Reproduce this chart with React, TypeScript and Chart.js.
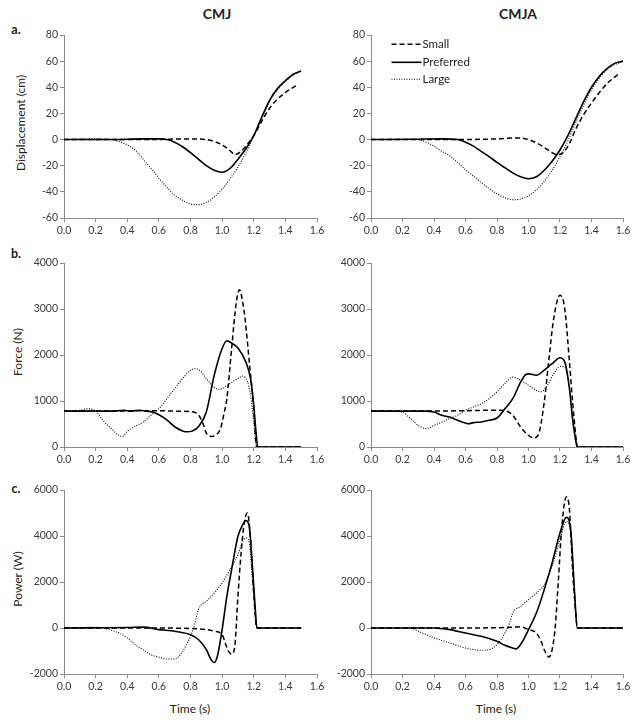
import React, { useEffect, useRef } from "react";
import { Chart, registerables } from "chart.js";

Chart.register(...registerables);

const FONT = "Lato, 'Open Sans', sans-serif";
const AXIS = "#8a8a8a";
const TICK_TEXT = "#3a3a3a";

// ---------- tick labels ----------
const X_TICKS = [0, 0.2, 0.4, 0.6, 0.8, 1.0, 1.2, 1.4, 1.6];
const DISP_TICKS = [-60, -40, -20, 0, 20, 40, 60, 80];
const FORCE_TICKS = [0, 1000, 2000, 3000, 4000];
const POWER_TICKS = [-2000, 0, 2000, 4000, 6000];

// ---------- a. Displacement, CMJ ----------
const dispCmjSmallT = [0, 0.5, 0.8, 0.9, 0.95, 1.0, 1.05, 1.08, 1.12, 1.15, 1.2, 1.25, 1.3, 1.35, 1.4, 1.45, 1.48];
const dispCmjSmallV = [0, 0, 0.5, 0, -1.5, -4, -8.5, -11.5, -9, -5, 3, 14, 24, 31, 36, 40, 42];
const dispCmjPrefT = [0, 0.3, 0.5, 0.6, 0.65, 0.7, 0.75, 0.8, 0.85, 0.9, 0.95, 1.0, 1.05, 1.1, 1.15, 1.2, 1.25, 1.3, 1.35, 1.4, 1.45, 1.5];
const dispCmjPrefV = [0, 0, 0.5, 0.5, 0, -2, -5.5, -10, -15, -20, -23.5, -25, -22, -15, -7, 3, 17, 30, 39, 45, 50, 52.5];
const dispCmjLargeT = [0, 0.2, 0.25, 0.3, 0.35, 0.4, 0.45, 0.5, 0.55, 0.6, 0.65, 0.7, 0.75, 0.8, 0.85, 0.9, 0.95, 1.0, 1.05, 1.1, 1.15, 1.2, 1.25, 1.3, 1.35, 1.4, 1.45, 1.48];
const dispCmjLargeV = [0, 0.5, 0.3, 0, -1.5, -4, -8, -15, -22, -29.5, -36.5, -42.5, -46.5, -49.3, -49.8, -48, -44, -38, -30, -21, -10, 3, 16, 29, 38, 44.5, 49.5, 51.5];

// ---------- a. Displacement, CMJA ----------
const dispCmjaSmallT = [0, 0.5, 0.8, 0.9, 0.95, 1.0, 1.05, 1.1, 1.15, 1.18, 1.22, 1.26, 1.3, 1.35, 1.4, 1.45, 1.5, 1.57];
const dispCmjaSmallV = [0, 0, 0.5, 1.2, 1.2, 0, -2.5, -6, -10, -11.5, -10, -3, 8, 19, 28, 36, 43, 50];
const dispCmjaPrefT = [0, 0.3, 0.45, 0.55, 0.6, 0.65, 0.7, 0.75, 0.8, 0.85, 0.9, 0.95, 1.0, 1.05, 1.1, 1.15, 1.2, 1.25, 1.3, 1.35, 1.4, 1.45, 1.5, 1.55, 1.6];
const dispCmjaPrefV = [0, 0.3, 0.5, 0, -2, -5, -9, -13, -17.5, -21.5, -25.5, -28.5, -30, -28.5, -23.5, -16.5, -8, 3, 16, 29, 40, 48.5, 54.5, 58.5, 60];
const dispCmjaLargeT = [0, 0.25, 0.3, 0.35, 0.4, 0.45, 0.5, 0.55, 0.6, 0.65, 0.7, 0.75, 0.8, 0.85, 0.9, 0.95, 1.0, 1.05, 1.1, 1.15, 1.2, 1.25, 1.3, 1.35, 1.4, 1.45, 1.5, 1.55, 1.6];
const dispCmjaLargeV = [0, 0.3, 0, -2, -5, -9, -12.5, -17.5, -23, -28, -33, -37.5, -41.5, -44.5, -46, -45.5, -43, -38.5, -32, -23.5, -13, -1, 13, 26.5, 38, 47, 53.5, 57.5, 59.5];

// ---------- b. Force, CMJ ----------
const forceCmjSmallT = [0, 0.1, 0.2, 0.3, 0.4, 0.5, 0.6, 0.7, 0.8, 0.85, 0.88, 0.9, 0.93, 0.96, 0.99, 1.01, 1.03, 1.06, 1.09, 1.11, 1.13, 1.145, 1.176, 1.197, 1.218, 1.3, 1.4, 1.5];
const forceCmjSmallV = [780, 780, 780, 780, 780, 790, 790, 780, 770, 700, 500, 300, 230, 260, 400, 700, 1050, 2140, 3150, 3420, 3150, 2790, 1700, 980, 0, 0, 0, 0];
const forceCmjPrefT = [0, 0.1, 0.2, 0.3, 0.35, 0.38, 0.42, 0.45, 0.48, 0.52, 0.56, 0.6, 0.65, 0.7, 0.75, 0.78, 0.81, 0.85, 0.9, 0.95, 1.0, 1.03, 1.06, 1.1, 1.15, 1.18, 1.2, 1.215, 1.225, 1.3, 1.4, 1.5];
const forceCmjPrefV = [780, 780, 780, 780, 790, 800, 780, 790, 800, 780, 760, 700, 590, 440, 350, 330, 345, 440, 760, 1560, 2140, 2310, 2260, 2150, 1850, 1480, 900, 300, 0, 0, 0, 0];
const forceCmjLargeT = [0, 0.1, 0.15, 0.2, 0.25, 0.3, 0.34, 0.37, 0.4, 0.45, 0.5, 0.55, 0.6, 0.65, 0.7, 0.75, 0.8, 0.83, 0.86, 0.9, 0.95, 0.98, 1.0, 1.05, 1.1, 1.13, 1.16, 1.18, 1.2, 1.22, 1.3, 1.4, 1.5];
const forceCmjLargeV = [780, 800, 830, 780, 560, 400, 270, 230, 340, 450, 540, 690, 830, 1050, 1270, 1490, 1670, 1700, 1660, 1490, 1300, 1250, 1270, 1380, 1490, 1540, 1420, 1120, 540, 0, 0, 0, 0];

// ---------- b. Force, CMJA ----------
const forceCmjaSmallT = [0, 0.2, 0.4, 0.6, 0.8, 0.86, 0.9, 0.95, 1.0, 1.03, 1.06, 1.1, 1.13, 1.16, 1.2, 1.23, 1.26, 1.28, 1.3, 1.31, 1.4, 1.5, 1.6];
const forceCmjaSmallV = [780, 780, 780, 790, 800, 780, 690, 435, 250, 200, 250, 980, 1920, 2790, 3300, 3010, 1850, 980, 250, 0, 0, 0, 0];
const forceCmjaPrefT = [0, 0.2, 0.35, 0.4, 0.45, 0.5, 0.55, 0.6, 0.62, 0.65, 0.7, 0.75, 0.8, 0.85, 0.9, 0.95, 0.98, 1.0, 1.05, 1.1, 1.15, 1.2, 1.23, 1.26, 1.28, 1.3, 1.31, 1.4, 1.5, 1.6];
const forceCmjaPrefV = [780, 780, 780, 760, 690, 650, 580, 520, 507, 530, 543, 580, 630, 830, 1050, 1410, 1570, 1590, 1560, 1670, 1810, 1940, 1850, 1270, 620, 150, 0, 0, 0, 0];
const forceCmjaLargeT = [0, 0.15, 0.2, 0.25, 0.3, 0.35, 0.4, 0.45, 0.5, 0.55, 0.6, 0.65, 0.7, 0.75, 0.8, 0.85, 0.9, 0.95, 1.0, 1.05, 1.08, 1.12, 1.16, 1.2, 1.23, 1.26, 1.28, 1.3, 1.31, 1.4, 1.5, 1.6];
const forceCmjaLargeV = [780, 780, 760, 620, 470, 400, 470, 540, 620, 690, 800, 870, 940, 1050, 1200, 1380, 1520, 1450, 1340, 1230, 1200, 1340, 1590, 1750, 1735, 1270, 540, 100, 0, 0, 0, 0];

// ---------- c. Power, CMJ ----------
const powerCmjSmallT = [0, 0.5, 0.8, 0.9, 0.95, 1.0, 1.02, 1.04, 1.06, 1.08, 1.1, 1.12, 1.14, 1.16, 1.18, 1.2, 1.22, 1.3, 1.4, 1.5];
const powerCmjSmallV = [0, 0, -20, -70, -140, -290, -650, -1010, -1130, -800, 1380, 3260, 4570, 5000, 3840, 1520, 0, 0, 0, 0];
const powerCmjPrefT = [0, 0.4, 0.5, 0.6, 0.7, 0.8, 0.85, 0.9, 0.93, 0.95, 0.97, 1.0, 1.03, 1.06, 1.1, 1.13, 1.15, 1.17, 1.19, 1.21, 1.22, 1.3, 1.4, 1.5];
const powerCmjPrefV = [0, 20, 40, -70, -140, -290, -500, -940, -1375, -1500, -1230, -70, 1380, 2540, 3990, 4490, 4670, 4490, 2830, 800, 0, 0, 0, 0];
const powerCmjLargeT = [0, 0.2, 0.25, 0.3, 0.35, 0.4, 0.45, 0.5, 0.55, 0.6, 0.65, 0.7, 0.75, 0.8, 0.82, 0.85, 0.9, 0.95, 1.0, 1.05, 1.1, 1.13, 1.15, 1.17, 1.19, 1.21, 1.22, 1.3, 1.4, 1.5];
const powerCmjLargeV = [0, 30, 0, -100, -220, -430, -720, -940, -1160, -1270, -1350, -1350, -1010, -360, 0, 800, 1160, 1520, 1960, 2540, 3190, 3770, 3910, 3770, 2250, 510, 0, 0, 0, 0];

// ---------- c. Power, CMJA ----------
const powerCmjaSmallT = [0, 0.5, 0.9, 0.95, 1.0, 1.05, 1.08, 1.1, 1.13, 1.15, 1.17, 1.19, 1.21, 1.24, 1.26, 1.28, 1.3, 1.31, 1.4, 1.5, 1.6];
const powerCmjaSmallV = [0, 0, 30, 50, -70, -220, -580, -940, -1260, -940, 70, 2100, 4280, 5700, 5150, 2540, 650, 0, 0, 0, 0];
const powerCmjaPrefT = [0, 0.4, 0.5, 0.6, 0.7, 0.8, 0.85, 0.9, 0.92, 0.95, 1.0, 1.05, 1.1, 1.15, 1.2, 1.24, 1.27, 1.29, 1.31, 1.4, 1.5, 1.6];
const powerCmjaPrefV = [0, 0, -70, -220, -360, -580, -750, -870, -910, -720, -70, 650, 1670, 2830, 4130, 4810, 4130, 1810, 0, 0, 0, 0];
const powerCmjaLargeT = [0, 0.25, 0.3, 0.4, 0.5, 0.6, 0.65, 0.7, 0.75, 0.8, 0.85, 0.88, 0.9, 0.95, 1.0, 1.05, 1.1, 1.15, 1.2, 1.24, 1.27, 1.29, 1.31, 1.4, 1.5, 1.6];
const powerCmjaLargeV = [0, 0, -140, -430, -650, -870, -940, -970, -940, -720, -220, 220, 650, 940, 1230, 1520, 1880, 2680, 3840, 4640, 3990, 1960, 0, 0, 0, 0];

const SERIES_NAMES = ["Small", "Preferred", "Large"];

type Style = { borderDash: number[]; borderWidth: number };
const STYLES: Style[] = [
  { borderDash: [5, 3], borderWidth: 1.5 },
  { borderDash: [], borderWidth: 1.6 },
  { borderDash: [1, 1.5], borderWidth: 1.1 },
];

function pts(t: number[], v: number[]) {
  return t.map((x, i) => ({ x, y: v[i] }));
}

interface PanelProps {
  left: number;
  top: number;
  w: number;
  h: number;
  yTicks: number[];
  series: [number[], number[]][];
  legend?: boolean;
}

const PAD_L = 10;
const Y_W = 40;
const PAD_T = 10;
const PAD_R = 14;
const X_H = 20;
const PAD_B = 4;

function Panel(p: PanelProps) {
  const ref = useRef<HTMLCanvasElement>(null);
  useEffect(() => {
    if (!ref.current) return;
    const legendPlugin = {
      id: "customLegend",
      afterDatasetsDraw(chart: any) {
        if (!p.legend) return;
        const ctx = chart.ctx as CanvasRenderingContext2D;
        const a = chart.chartArea;
        const rows = [9.3, 27.3, 44.3];
        ctx.save();
        SERIES_NAMES.forEach((name, i) => {
          const y = a.top + rows[i];
          ctx.beginPath();
          ctx.setLineDash(STYLES[i].borderDash);
          ctx.lineWidth = STYLES[i].borderWidth;
          ctx.strokeStyle = "#000";
          ctx.moveTo(a.left + 20.5, y);
          ctx.lineTo(a.left + 50.5, y);
          ctx.stroke();
          ctx.setLineDash([]);
          ctx.fillStyle = "#222";
          ctx.font = `11.5px ${FONT}`;
          ctx.textBaseline = "middle";
          ctx.textAlign = "left";
          ctx.fillText(name, a.left + 51.5, y);
        });
        ctx.restore();
      },
    };
    const yMin = p.yTicks[0];
    const yMax = p.yTicks[p.yTicks.length - 1];
    const chart = new Chart(ref.current, {
      type: "line",
      data: {
        datasets: p.series.map(([t, v], i) => ({
          label: SERIES_NAMES[i],
          data: pts(t, v),
          borderColor: "#000",
          borderDash: STYLES[i].borderDash,
          borderWidth: STYLES[i].borderWidth,
          pointRadius: 0,
          fill: false,
          cubicInterpolationMode: "monotone" as const,
        })),
      },
      options: {
        animation: false,
        responsive: true,
        maintainAspectRatio: false,
        layout: { padding: { left: PAD_L, top: PAD_T, right: PAD_R, bottom: PAD_B } },
        plugins: { legend: { display: false }, tooltip: { enabled: false } },
        events: [],
        scales: {
          x: {
            type: "linear",
            min: 0,
            max: 1.6,
            afterFit: (s: any) => {
              s.height = X_H;
            },
            afterBuildTicks: (s: any) => {
              s.ticks = X_TICKS.map((v) => ({ value: v }));
            },
            grid: { drawOnChartArea: false, drawTicks: true, tickLength: 4, color: AXIS, tickColor: AXIS },
            border: { display: true, color: AXIS, width: 1 },
            ticks: {
              autoSkip: false,
              maxRotation: 0,
              padding: 2,
              color: TICK_TEXT,
              font: { family: FONT, size: 10.5 },
              callback: (v: any) => Number(v).toFixed(1),
            },
          },
          y: {
            type: "linear",
            min: yMin,
            max: yMax,
            afterFit: (s: any) => {
              s.width = Y_W;
            },
            afterBuildTicks: (s: any) => {
              s.ticks = p.yTicks.map((v) => ({ value: v }));
            },
            grid: { drawOnChartArea: false, drawTicks: true, tickLength: 4, color: AXIS, tickColor: AXIS },
            border: { display: true, color: AXIS, width: 1 },
            ticks: {
              autoSkip: false,
              padding: 2,
              color: TICK_TEXT,
              font: { family: FONT, size: 10.5 },
              callback: (v: any) => String(v),
            },
          },
        },
      } as any,
      plugins: [legendPlugin],
    });
    return () => chart.destroy();
  }, []);
  return (
    <div
      style={{
        position: "absolute",
        left: p.left - PAD_L - Y_W,
        top: p.top - PAD_T,
        width: p.w + PAD_L + Y_W + PAD_R,
        height: p.h + PAD_T + X_H + PAD_B,
      }}
    >
      <canvas ref={ref} />
    </div>
  );
}

const textBase: React.CSSProperties = {
  position: "absolute",
  fontFamily: FONT,
  color: "#222",
  whiteSpace: "nowrap",
  lineHeight: 1,
};

function Label(props: { x: number; y: number; text: string; size: number; bold?: boolean; rotate?: boolean }) {
  return (
    <div
      style={{
        ...textBase,
        left: props.x,
        top: props.y,
        fontSize: props.size,
        fontWeight: props.bold ? 700 : 400,
        transform: `translate(-50%, -50%)${props.rotate ? " rotate(-90deg)" : ""}`,
      }}
    >
      {props.text}
    </div>
  );
}

const COL_L = { left: 64, w: 253 };
const COL_R = { left: 371, w: 252 };
const ROW1 = { top: 35, h: 183 };
const ROW2 = { top: 263, h: 184 };
const ROW3 = { top: 490, h: 184 };

export default function App() {
  return (
    <div style={{ position: "absolute", left: 0, top: 0, width: 638, height: 724, background: "#fff", overflow: "hidden" }}>
      <Label x={217} y={14} text="CMJ" size={14} bold />
      <Label x={518} y={14} text="CMJA" size={14} bold />
      <Label x={16} y={30} text="a." size={12.5} bold />
      <Label x={16} y={254} text="b." size={12.5} bold />
      <Label x={16} y={489} text="c." size={12.5} bold />
      <Label x={21} y={123} text="Displacement (cm)" size={12} rotate />
      <Label x={18} y={352} text="Force (N)" size={12} rotate />
      <Label x={18} y={579} text="Power (W)" size={12} rotate />
      <Label x={190} y={709} text="Time (s)" size={12} />
      <Label x={496} y={709} text="Time (s)" size={12} />

      <Panel {...COL_L} {...ROW1} yTicks={DISP_TICKS} series={[[dispCmjSmallT, dispCmjSmallV], [dispCmjPrefT, dispCmjPrefV], [dispCmjLargeT, dispCmjLargeV]]} />
      <Panel {...COL_R} {...ROW1} yTicks={DISP_TICKS} legend series={[[dispCmjaSmallT, dispCmjaSmallV], [dispCmjaPrefT, dispCmjaPrefV], [dispCmjaLargeT, dispCmjaLargeV]]} />
      <Panel {...COL_L} {...ROW2} yTicks={FORCE_TICKS} series={[[forceCmjSmallT, forceCmjSmallV], [forceCmjPrefT, forceCmjPrefV], [forceCmjLargeT, forceCmjLargeV]]} />
      <Panel {...COL_R} {...ROW2} yTicks={FORCE_TICKS} series={[[forceCmjaSmallT, forceCmjaSmallV], [forceCmjaPrefT, forceCmjaPrefV], [forceCmjaLargeT, forceCmjaLargeV]]} />
      <Panel {...COL_L} {...ROW3} yTicks={POWER_TICKS} series={[[powerCmjSmallT, powerCmjSmallV], [powerCmjPrefT, powerCmjPrefV], [powerCmjLargeT, powerCmjLargeV]]} />
      <Panel {...COL_R} {...ROW3} yTicks={POWER_TICKS} series={[[powerCmjaSmallT, powerCmjaSmallV], [powerCmjaPrefT, powerCmjaPrefV], [powerCmjaLargeT, powerCmjaLargeV]]} />
    </div>
  );
}
